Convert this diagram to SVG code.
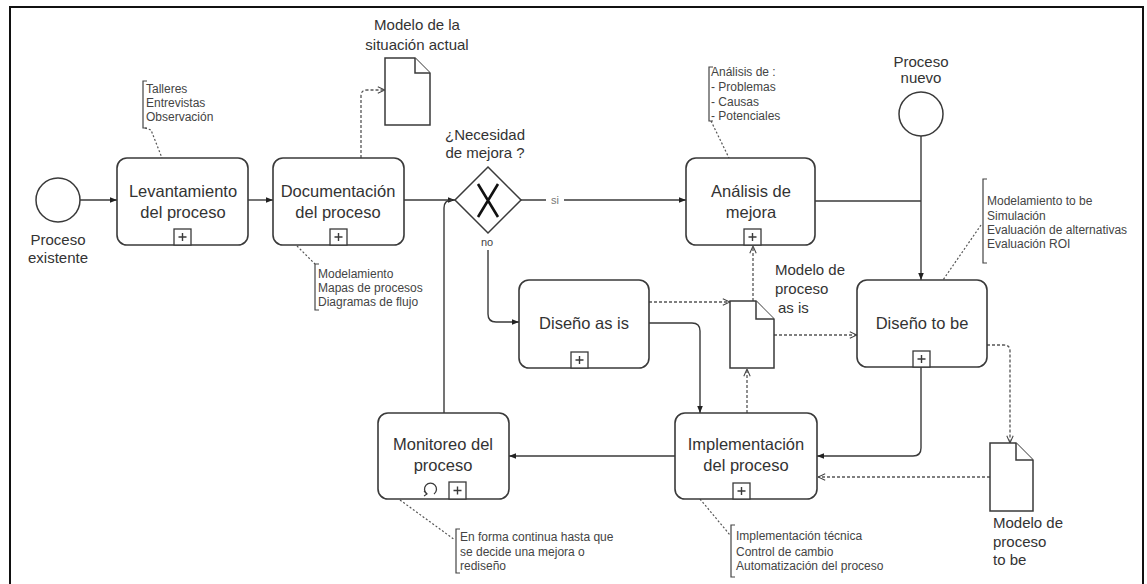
<svg xmlns="http://www.w3.org/2000/svg" width="1147" height="584" viewBox="0 0 1147 584">
<defs>
<style>
.task{fill:#fff;stroke:#3a3a3a;stroke-width:1.6}
.ev{fill:#fff;stroke:#3a3a3a;stroke-width:1.5}
.doc{fill:#fff;stroke:#3a3a3a;stroke-width:1.5}
.flow{fill:none;stroke:#3a3a3a;stroke-width:1.4}
.assoc{fill:none;stroke:#555;stroke-width:1.3;stroke-dasharray:3 2}
.ann{fill:none;stroke:#555;stroke-width:1.2;stroke-dasharray:2 2}
.br{fill:none;stroke:#444;stroke-width:1.2}
.t{font-family:"Liberation Sans",Arial,sans-serif;font-size:16.5px;fill:#333;text-anchor:middle}
.l{font-family:"Liberation Sans",Arial,sans-serif;font-size:15px;fill:#333;text-anchor:middle}
.ls{font-family:"Liberation Sans",Arial,sans-serif;font-size:15px;fill:#333;text-anchor:start}
.a{font-family:"Liberation Sans",Arial,sans-serif;font-size:12px;fill:#444}
.sm{font-family:"Liberation Sans",Arial,sans-serif;font-size:11px;fill:#777;text-anchor:middle}
.pm{fill:#fff;stroke:#3a3a3a;stroke-width:1.3}
</style>
<marker id="arr" viewBox="0 0 10 10" refX="10" refY="5" markerWidth="7" markerHeight="7" orient="auto" markerUnits="userSpaceOnUse">
<path d="M0,1 L10,5 L0,9 z" fill="#222"/>
</marker>
<marker id="open" viewBox="0 0 10 10" refX="10" refY="5" markerWidth="8" markerHeight="8" orient="auto" markerUnits="userSpaceOnUse">
<path d="M1,1 L10,5 L1,9" fill="none" stroke="#444" stroke-width="1.3"/>
</marker>
</defs>
<rect x="0" y="0" width="1147" height="584" fill="#fff"/>
<rect x="10" y="7" width="1133" height="600" fill="none" stroke="#111" stroke-width="2"/>

<g id="connectors">
<line class="flow" x1="80" y1="200" x2="117" y2="200" marker-end="url(#arr)"/>
<line class="flow" x1="248" y1="200" x2="273" y2="200" marker-end="url(#arr)"/>
<line class="flow" x1="404" y1="200" x2="455" y2="200" marker-end="url(#arr)"/>
<path class="flow" d="M444,413 V208 Q444,200 452,200" />
<line class="flow" x1="521" y1="200" x2="686" y2="200" marker-end="url(#arr)"/>
<path class="flow" d="M488,250 V314 Q488,322 496,322 H519" marker-end="url(#arr)"/>
<path class="flow" d="M815,201 H921"/>
<line class="flow" x1="921" y1="136" x2="921" y2="280" marker-end="url(#arr)"/>
<path class="flow" d="M649,323 H692 Q700,323 700,331 V413" marker-end="url(#arr)"/>
<path class="flow" d="M921,367 V448 Q921,456 913,456 H817" marker-end="url(#arr)"/>
<line class="flow" x1="675" y1="456" x2="509" y2="456" marker-end="url(#arr)"/>
<path class="assoc" d="M361,158 V96 Q361,90 367,90 H385" marker-end="url(#open)"/>
<line class="assoc" x1="649" y1="302" x2="730" y2="302" marker-end="url(#open)"/>
<line class="assoc" x1="753" y1="301" x2="753" y2="246" marker-end="url(#open)"/>
<line class="assoc" x1="774" y1="335" x2="857" y2="335" marker-end="url(#open)"/>
<line class="assoc" x1="747" y1="413" x2="747" y2="369" marker-end="url(#open)"/>
<path class="assoc" d="M987,345 H1004 Q1010,345 1010,351 V443" marker-end="url(#open)"/>
<line class="assoc" x1="990" y1="477" x2="818" y2="477" marker-end="url(#open)"/>
<path class="ann" d="M145,128 L151,130 L162,158"/>
<line class="ann" x1="297" y1="246" x2="315" y2="264"/>
<line class="ann" x1="711" y1="121" x2="729" y2="158"/>
<line class="ann" x1="981" y1="225" x2="943" y2="280"/>
<line class="ann" x1="400" y1="500" x2="455" y2="540"/>
<line class="ann" x1="700" y1="499" x2="730" y2="535"/>
<rect x="546" y="194" width="18" height="12" fill="#fff"/>
<text class="sm" x="555" y="204">si</text>
<text class="sm" x="487" y="246" style="fill:#444">no</text>
</g>

<g id="start-existente">
<circle class="ev" cx="58" cy="200" r="22"/>
<text class="l" x="58" y="245">Proceso</text>
<text class="l" x="58" y="263">existente</text>
</g>

<g id="start-nuevo">
<circle class="ev" cx="921" cy="114" r="22"/>
<text class="l" x="921" y="67">Proceso</text>
<text class="l" x="921" y="83">nuevo</text>
</g>

<g id="levantamiento">
<rect class="task" x="117" y="158" width="131" height="87" rx="10"/>
<text class="t" x="183" y="197">Levantamiento</text>
<text class="t" x="183" y="218">del proceso</text>
<rect class="pm" x="174" y="229" width="17" height="16"/>
<path class="flow" d="M178.5,237 h8 M182.5,233 v8"/>
</g>

<g id="documentacion">
<rect class="task" x="273" y="158" width="131" height="87" rx="10"/>
<text class="t" x="338" y="197">Documentación</text>
<text class="t" x="338" y="218">del proceso</text>
<rect class="pm" x="330" y="229" width="17" height="16"/>
<path class="flow" d="M334.5,237 h8 M338.5,233 v8"/>
</g>

<g id="gateway">
<path d="M488,167 L521,200 L488,233 L455,200 z" fill="#fff" stroke="#3a3a3a" stroke-width="1.5"/>
<path d="M478,184 L498,217 M498,184 L478,217" stroke="#111" stroke-width="2.6" fill="none"/>
<text class="l" x="485" y="140">¿Necesidad</text>
<text class="l" x="485" y="158">de mejora ?</text>
</g>

<g id="analisis">
<rect class="task" x="686" y="158" width="129" height="87" rx="10"/>
<text class="t" x="751" y="197">Análisis de</text>
<text class="t" x="751" y="218">mejora</text>
<rect class="pm" x="744" y="229" width="17" height="16"/>
<path class="flow" d="M748.5,237 h8 M752.5,233 v8"/>
</g>

<g id="diseno-as-is">
<rect class="task" x="519" y="280" width="130" height="88" rx="10"/>
<text class="t" x="584" y="329">Diseño as is</text>
<rect class="pm" x="571" y="352" width="17" height="16"/>
<path class="flow" d="M575.5,360 h8 M579.5,356 v8"/>
</g>

<g id="diseno-to-be">
<rect class="task" x="857" y="280" width="130" height="87" rx="10"/>
<text class="t" x="922" y="329">Diseño to be</text>
<rect class="pm" x="913" y="351" width="17" height="16"/>
<path class="flow" d="M917.5,359 h8 M921.5,355 v8"/>
</g>

<g id="implementacion">
<rect class="task" x="675" y="413" width="142" height="86" rx="10"/>
<text class="t" x="746" y="450">Implementación</text>
<text class="t" x="746" y="471">del proceso</text>
<rect class="pm" x="733" y="483" width="17" height="16"/>
<path class="flow" d="M737.5,491 h8 M741.5,487 v8"/>
</g>

<g id="monitoreo">
<rect class="task" x="378" y="413" width="131" height="86" rx="10"/>
<text class="t" x="443" y="450">Monitoreo del</text>
<text class="t" x="443" y="471">proceso</text>
<rect class="pm" x="449" y="482" width="17" height="17"/>
<path class="flow" d="M453.5,490.5 h8 M457.5,486.5 v8"/>
<path d="M427,494 A6,6 0 1 1 434,494" fill="none" stroke="#3a3a3a" stroke-width="1.3"/>
<path d="M424,491 l3,3 l-3,2" fill="none" stroke="#3a3a3a" stroke-width="1.1"/>
</g>

<g id="doc-situacion-actual">
<path class="doc" d="M385,58 H415 L430,73 V125 H385 Z"/>
<path class="doc" d="M415,58 V73 H430" fill="none"/>
<text class="l" x="417" y="30">Modelo de la</text>
<text class="l" x="417" y="50">situación actual</text>
</g>

<g id="doc-as-is">
<path class="doc" d="M730,301 H756 L774,319 V368 H730 Z"/>
<path class="doc" d="M756,301 V319 H774" fill="none"/>
<text class="ls" x="775" y="275">Modelo de</text>
<text class="ls" x="775" y="294">proceso</text>
<text class="ls" x="778" y="313">as is</text>
</g>

<g id="doc-to-be">
<path class="doc" d="M990,443 H1016 L1033,460 V511 H990 Z"/>
<path class="doc" d="M1016,443 V460 H1033" fill="none"/>
<text class="ls" x="993" y="528">Modelo de</text>
<text class="ls" x="993" y="547">proceso</text>
<text class="ls" x="993" y="565">to be</text>
</g>

<g id="ann-levantamiento">
<path class="br" d="M147,81 H143 V128 H147"/>
<text class="a" x="146" y="93">Talleres</text>
<text class="a" x="146" y="107">Entrevistas</text>
<text class="a" x="146" y="121">Observación</text>
</g>

<g id="ann-documentacion">
<path class="br" d="M319,264 H315 V310 H319"/>
<text class="a" x="318" y="278">Modelamiento</text>
<text class="a" x="318" y="292">Mapas de procesos</text>
<text class="a" x="318" y="306">Diagramas de flujo</text>
</g>

<g id="ann-analisis">
<path class="br" d="M713,67 H709 V121 H713"/>
<text class="a" x="711" y="76">Análisis de :</text>
<text class="a" x="711" y="91">- Problemas</text>
<text class="a" x="711" y="106">- Causas</text>
<text class="a" x="711" y="120">- Potenciales</text>
</g>

<g id="ann-diseno-to-be">
<path class="br" d="M987,179 H983 V263 H987"/>
<text class="a" x="987" y="205">Modelamiento to be</text>
<text class="a" x="987" y="220">Simulación</text>
<text class="a" x="987" y="234">Evaluación de alternativas</text>
<text class="a" x="987" y="248">Evaluación ROI</text>
</g>

<g id="ann-monitoreo">
<path class="br" d="M460,529 H456 V573 H460"/>
<text class="a" x="460" y="541">En forma continua hasta que</text>
<text class="a" x="460" y="556">se decide una mejora o</text>
<text class="a" x="460" y="570">rediseño</text>
</g>

<g id="ann-implementacion">
<path class="br" d="M735,525 H731 V577 H735"/>
<text class="a" x="736" y="540">Implementación técnica</text>
<text class="a" x="736" y="556">Control de cambio</text>
<text class="a" x="736" y="570">Automatización del proceso</text>
</g>
</svg>
